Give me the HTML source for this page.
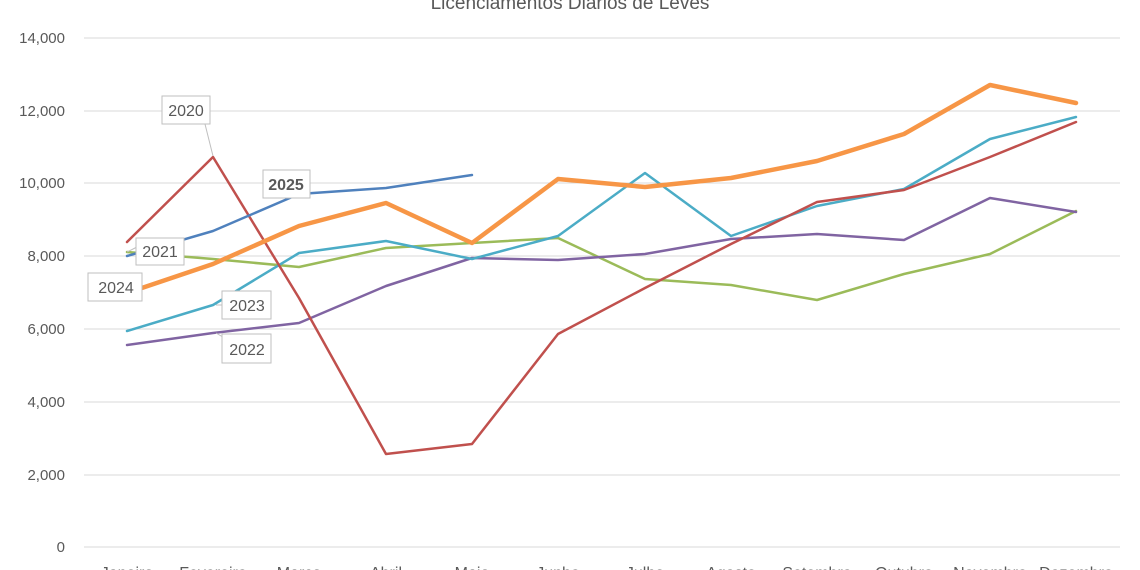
<!DOCTYPE html>
<html><head><meta charset="utf-8"><style>body{margin:0;background:#fff}svg{display:block}text{font-family:"Liberation Sans",sans-serif;fill:#595959}</style></head><body>
<svg width="1140" height="570" viewBox="0 0 1140 570">
<text x="570" y="9" font-size="19" text-anchor="middle">Licenciamentos Diários de Leves</text>
<g stroke="#d9d9d9" stroke-width="1">
<line x1="84" x2="1120" y1="38" y2="38"/><line x1="84" x2="1120" y1="111" y2="111"/><line x1="84" x2="1120" y1="183" y2="183"/><line x1="84" x2="1120" y1="256" y2="256"/><line x1="84" x2="1120" y1="329" y2="329"/><line x1="84" x2="1120" y1="402" y2="402"/><line x1="84" x2="1120" y1="475" y2="475"/><line x1="84" x2="1120" y1="547" y2="547"/>
</g>
<g font-size="15" text-anchor="end">
<text x="65" y="43">14,000</text><text x="65" y="116">12,000</text><text x="65" y="188">10,000</text><text x="65" y="261">8,000</text><text x="65" y="334">6,000</text><text x="65" y="407">4,000</text><text x="65" y="480">2,000</text><text x="65" y="552">0</text>
</g>
<g font-size="16" text-anchor="middle">
<text x="127" y="578">Janeiro</text><text x="213" y="578">Fevereiro</text><text x="299" y="578">Março</text><text x="386" y="578">Abril</text><text x="472" y="578">Maio</text><text x="558" y="578">Junho</text><text x="645" y="578">Julho</text><text x="731" y="578">Agosto</text><text x="817" y="578">Setembro</text><text x="904" y="578">Outubro</text><text x="990" y="578">Novembro</text><text x="1076" y="578">Dezembro</text>
</g>
<g fill="none" stroke-linejoin="round" stroke-linecap="round">
<polyline stroke="#9BBB59" stroke-width="2.5" points="127,252 213,259 299,267 386,248 472,243 558,238 645,279 731,285 817,300 904,274 990,254 1076,211"/>
<polyline stroke="#8064A2" stroke-width="2.5" points="127,345 213,333 299,323 386,286 472,258 558,260 645,254 731,239 817,234 904,240 990,198 1076,212"/>
<polyline stroke="#4BACC6" stroke-width="2.5" points="127,331 213,305 299,253 386,241 472,259 558,236 645,173 731,236 817,206 904,189 990,139 1076,117"/>
<polyline stroke="#C0504D" stroke-width="2.5" points="127,242 213,157 299,298 386,454 472,444 558,334 645,288 731,244 817,202 904,190 990,157 1076,122"/>
<polyline stroke="#F79646" stroke-width="4.5" points="127,293 213,264 299,226 386,203 472,243 558,179 645,187 731,178 817,161 904,134 990,85 1076,103"/>
<polyline stroke="#4F81BD" stroke-width="2.5" points="127,256 213,231 299,194 386,188 472,175"/>
</g>
<g stroke="#bfbfbf" fill="none"><line x1="205" y1="124" x2="213" y2="156"/><line x1="127" y1="252" x2="137" y2="247"/><line x1="228" y1="305" x2="216" y2="305"/><line x1="228" y1="340" x2="216" y2="333"/></g>
<g fill="#fff" stroke="#bfbfbf">
<rect x="162" y="96" width="48" height="28"/><rect x="136" y="238" width="48" height="27"/><rect x="88" y="273" width="54" height="28"/><rect x="263" y="170" width="47" height="28"/><rect x="222" y="291" width="49" height="28"/><rect x="222" y="334" width="49" height="29"/>
</g>
<g font-size="16" text-anchor="middle">
<text x="186" y="116">2020</text><text x="160" y="257">2021</text><text x="116" y="293">2024</text><text x="286" y="190" font-weight="bold">2025</text><text x="247" y="311">2023</text><text x="247" y="355">2022</text>
</g>
</svg>
</body></html>
